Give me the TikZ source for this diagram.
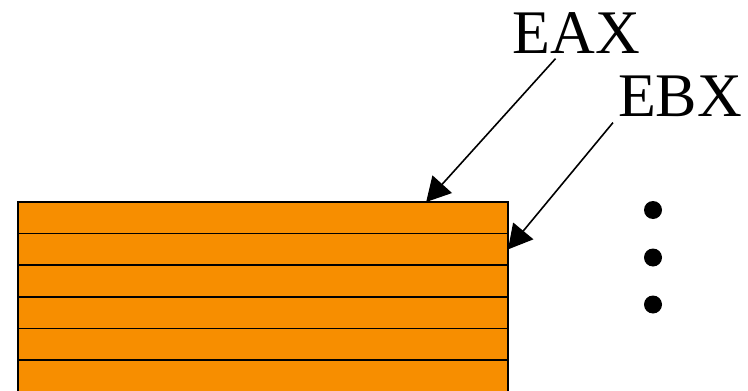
\documentclass[tikz,border=0pt]{standalone}
\usepackage{fontspec}
\setmainfont{Liberation Serif}
\usetikzlibrary{arrows.meta, positioning, calc}
\definecolor{stackorange}{RGB}{247,142,0}

\begin{document}
\begin{tikzpicture}[
        x=1pt, y=-1pt,
        node distance=0pt,
        cell/.style={fill=stackorange, minimum width=490pt, minimum height=31.6pt, inner sep=0pt, outer sep=0pt},
        edge/.style={line width=1.6pt},
        reg/.style={inner sep=0pt, font=\fontsize{62}{62}\selectfont},
        dot/.style={circle, fill, minimum size=18pt, inner sep=0pt},
        arrow/.style={-{Triangle[length=24pt, width=26pt]}, line width=1.6pt}
    ]
    \useasboundingbox (0,0) rectangle (748,391);
    % the stack
    \node[cell] (r1) at (263,217.8) {};
    \foreach \i/\j in {2/1, 3/2, 4/3, 5/4, 6/5}
        \node[cell, below=of r\j] (r\i) {};
    \foreach \i in {1,...,6}
        \draw[edge] (r\i.north west) rectangle (r\i.south east);
    % registers
    \node[reg] (eax) at (576.5,33) {EAX};
    \node[reg] (ebx) at (680,96) {EBX};
    \draw[arrow] ([xshift=-21pt, yshift=-5pt]eax.south) -- ($(r1.north west)!0.833!(r1.north east)$);
    \draw[arrow] ([xshift=-67pt, yshift=-6pt]ebx.south) -- (r2.east);
    % more below
    \node[dot] (d1) at (653,210) {};
    \node[dot] (d2) at (653,257.5) {};
    \node[dot] (d3) at (653,304.5) {};
\end{tikzpicture}
\end{document}
